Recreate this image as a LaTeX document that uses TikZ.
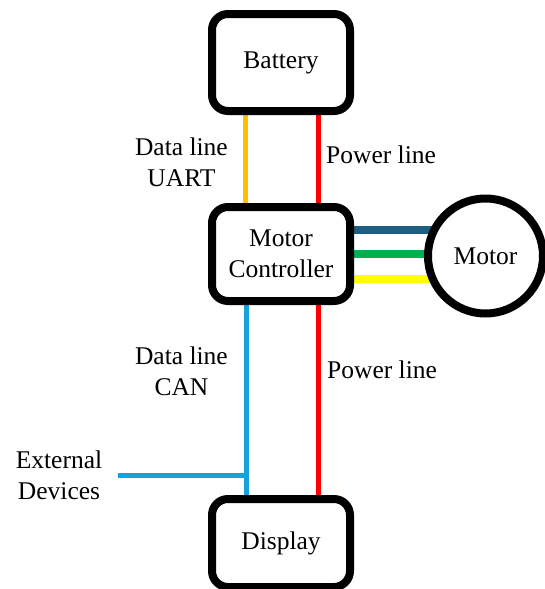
\documentclass[tikz,border=0pt]{standalone}
\usepackage{fontspec}
\setmainfont{Liberation Serif}
\newfontfamily\labelfont{Liberation Serif}
\usepackage{xcolor}
\usetikzlibrary{positioning,backgrounds}

\definecolor{uartorange}{RGB}{255,192,0}
\definecolor{powerred}{RGB}{255,0,0}
\definecolor{canblue}{RGB}{24,162,220}
\definecolor{phaseblue}{RGB}{30,94,128}
\definecolor{phasegreen}{RGB}{0,176,80}
\definecolor{phaseyellow}{RGB}{255,255,0}

\begin{document}
\begin{tikzpicture}[x=1pt, y=-1pt,
  unit/.style={rectangle, draw, line width=8pt, rounded corners=16pt, fill=white,
               minimum width=138pt, align=center,
               font=\labelfont\fontsize{25.5}{31}\selectfont},
  lbl/.style={align=center, inner sep=2pt, font=\labelfont\fontsize{25.5}{31}\selectfont},
  wire/.style={line width=5pt},
  phase/.style={line width=7.5pt}
]
  \useasboundingbox (0,0) rectangle (545,589);

  \node[unit, minimum height=97pt] (bat) at (281,62.5) {Battery};
  \node[unit, minimum height=94pt, below=88pt of bat] (mc) {Motor\\Controller};
  \node[unit, minimum height=88pt, below=190pt of mc] (disp) {Display};
  \node[circle, draw, line width=8pt, fill=white, minimum size=115pt,
        right=70pt of mc, yshift=-2pt, font=\labelfont\fontsize{25.5}{31}\selectfont] (mot) {Motor};

  \node[lbl, anchor=east] (uart) at (230,162.5) {Data line\\UART};
  \node[lbl, anchor=west] (pwrtop) at (324,154.5) {Power line};
  \node[lbl, anchor=east] (can) at (230,371.5) {Data line\\CAN};
  \node[lbl, anchor=west] (pwrbot) at (325,369.5) {Power line};
  \node[lbl] (ext) at (59,475.5) {External\\Devices};

  \coordinate (tap) at ([xshift=-35pt]disp.north);

  \begin{scope}[on background layer]
    \draw[wire, uartorange] ([xshift=-36pt]bat.south) -- ([xshift=-36pt]mc.north);
    \draw[wire, powerred] ([xshift=37pt]bat.south) -- ([xshift=37pt]mc.north);
    \draw[wire, canblue] ([xshift=-35pt]mc.south) -- (tap);
    \draw[wire, powerred] ([xshift=37pt]mc.south) -- ([xshift=37pt]disp.north);
    \draw[wire, canblue] ([xshift=14pt]ext.east) -- (ext.east -| tap);

    \draw[phase, phaseblue] ([yshift=24pt]mc.east) -- ([yshift=26pt]mot.center);
    \draw[phase, phasegreen] (mc.east) -- ([yshift=2pt]mot.center);
    \draw[phase, phaseyellow] ([yshift=-25pt]mc.east) -- ([yshift=-23pt]mot.center);
  \end{scope}
\end{tikzpicture}
\end{document}
